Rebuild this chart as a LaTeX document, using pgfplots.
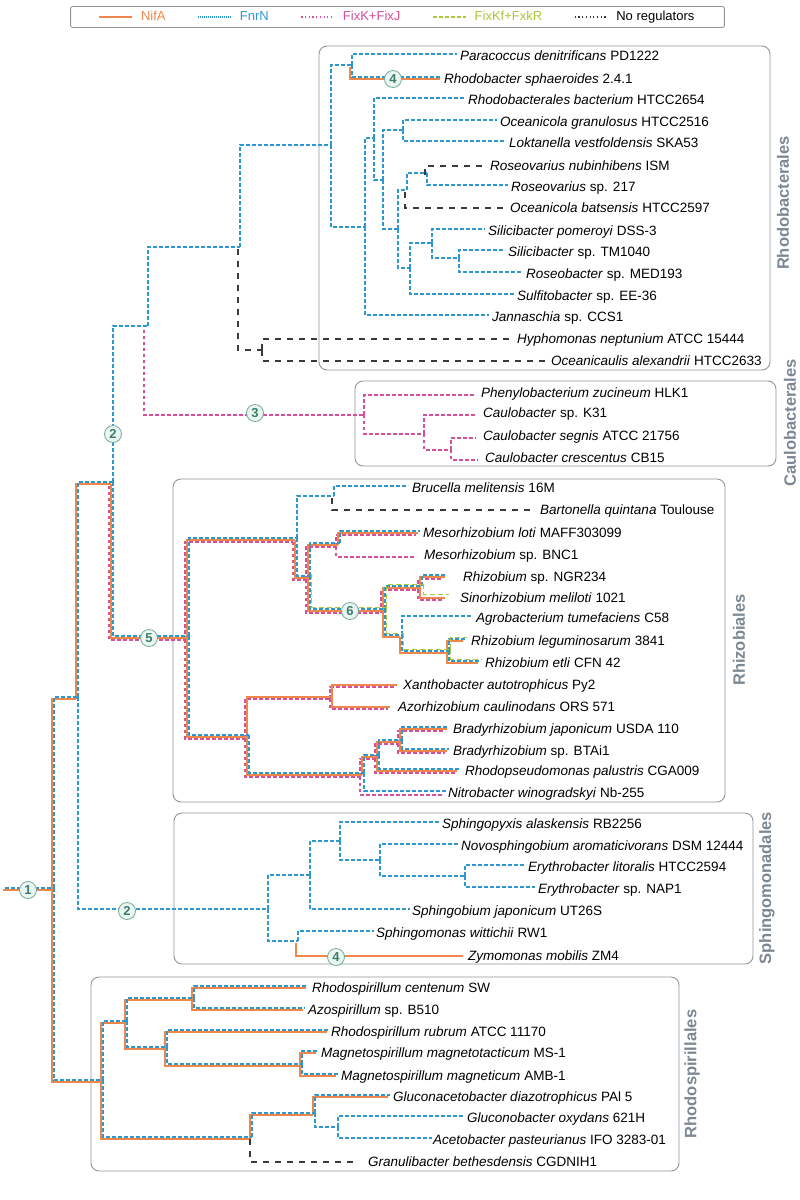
\documentclass[border=0pt]{standalone}
\usepackage{pgfplots}
\pgfplotsset{compat=1.18}
\usepackage{fontspec}
\setmainfont{Liberation Sans}
\definecolor{nifa}{HTML}{F0874A}
\definecolor{fnrn}{HTML}{2F97CF}
\definecolor{fixk}{HTML}{D64F9A}
\definecolor{fixkf}{HTML}{A9C93A}
\definecolor{noreg}{HTML}{3A3A3A}
\definecolor{framec}{HTML}{8E959B}
\definecolor{ordgray}{HTML}{7B8792}
\definecolor{circfill}{HTML}{EAF6F1}
\definecolor{circdraw}{HTML}{76AA9B}
\definecolor{circtext}{HTML}{3C7D6C}
\newcommand{\labfont}{\fontsize{13.5}{16}\selectfont}
\newcommand{\lab}[4]{\node[anchor=base west, inner sep=0pt, yshift=-4.5pt, font=\labfont] at (axis cs:#1,#2) {\textit{#3} #4};}
\newcommand{\ord}[3]{\node[rotate=90, inner sep=0pt, font=\bfseries\fontsize{16.5}{18}\selectfont, text=ordgray] at (axis cs:#1,#2) {#3};}
\tikzset{
  sOr/.style={nifa, line width=1.4pt},
  sBl/.style={fnrn, line width=1.55pt, dash pattern=on 4pt off 2pt},
  sRd/.style={fixk, line width=1.5pt, dash pattern=on 3.5pt off 2.5pt},
  sGr/.style={fixkf, line width=1.4pt, dash pattern=on 5pt off 3pt},
  sBk/.style={noreg, line width=1.3pt, dash pattern=on 6pt off 6pt},
  sFr/.style={framec, line width=0.9pt, rounded corners=8pt},
}
\begin{document}
\begin{tikzpicture}
\begin{axis}[
  width=800pt, height=1200pt, scale only axis,
  xmin=0, xmax=800, ymin=0, ymax=1200, y dir=reverse,
  hide axis, clip=false, unbounded coords=jump,
  legend columns=5,
  legend style={at={(axis cs:397.5,17)}, anchor=center, draw=framec, rounded corners=2pt, line width=0.9pt,
    inner xsep=28pt, inner ysep=3pt, font=\fontsize{13}{15}\selectfont,
    /tikz/every odd column/.append style={column sep=6pt},
    /tikz/every even column/.append style={column sep=30pt}},
  legend image code/.code={\draw[#1] (0pt,0pt) -- (33pt,0pt);},
]
\addlegendimage{nifa, line width=1.4pt}
\addlegendentry{\textcolor{nifa}{NifA}}
\addlegendimage{fnrn, line width=1.3pt, dash pattern=on 1.2pt off 0.8pt}
\addlegendentry{\textcolor{fnrn}{FnrN}}
\addlegendimage{fixk, line width=1.2pt, dash pattern=on 1.2pt off 2.5pt}
\addlegendentry{\textcolor{fixk}{FixK+FixJ}}
\addlegendimage{fixkf, line width=1.3pt, dash pattern=on 4pt off 2pt}
\addlegendentry{\textcolor{fixkf}{FixKf+FxkR}}
\addlegendimage{noreg, line width=1.1pt, dash pattern=on 1.2pt off 2.5pt}
\addlegendentry{No regulators}

% bounding box
\addplot[draw=none, forget plot] coordinates {(0,0) (800,1200)};

% frames
\addplot[sFr, forget plot] coordinates {(540,46) (770,46) (770,370) (319,370) (319,46) (541,46)};
\addplot[sFr, forget plot] coordinates {(560,381) (776,381) (776,466) (355,466) (355,381) (561,381)};
\addplot[sFr, forget plot] coordinates {(450,479) (725,479) (725,802) (173,802) (173,479) (451,479)};
\addplot[sFr, forget plot] coordinates {(460,813) (753,813) (753,964) (174,964) (174,813) (461,813)};
\addplot[sFr, forget plot] coordinates {(380,977) (679,977) (679,1171) (91,1171) (91,977) (381,977)};

% FixK+FixJ (red)
\addplot[sRd, forget plot] table[x expr=\thisrow{x}-1.8, y expr=\thisrow{y}+1.8] {
x y
111 484
111 638
187 638
nan nan
187 638
187 540
295 540
nan nan
295 540
295 578
308 578
nan nan
308 578
308 545
338 545
nan nan
338 545
338 533
418 533
nan nan
338 545
338 555
418 555
nan nan
308 578
308 611
383 611
nan nan
383 611
383 588
420 588
nan nan
420 588
420 577
445 577
nan nan
420 588
420 598
445 598
nan nan
187 638
187 737
247 737
nan nan
247 737
247 697
332 697
nan nan
332 697
332 685
397 685
nan nan
332 697
332 707
390 707
nan nan
247 737
247 775
362 775
nan nan
362 775
362 757
377 757
nan nan
377 757
377 742
400 742
nan nan
400 742
400 729
447 729
nan nan
400 742
400 751
447 751
nan nan
377 757
377 771
457 771
nan nan
362 775
362 793
444 793
nan nan
146 328
146 413
366 413
nan nan
366 413
366 393
476 393
nan nan
366 413
366 432
426 432
nan nan
426 432
426 413
478 413
nan nan
426 432
426 448
453 448
nan nan
453 448
453 436
478 436
nan nan
453 448
453 458
480 458
};

% NifA (orange)
\addplot[sOr, forget plot] table {
x y
3 890
52 890
nan nan
52 890
52 699
76 699
nan nan
76 699
76 484
111 484
nan nan
111 484
111 638
187 638
nan nan
187 638
187 540
295 540
nan nan
295 540
295 578
308 578
nan nan
308 578
308 545
338 545
nan nan
338 545
338 533
418 533
nan nan
308 578
308 611
383 611
nan nan
383 611
383 588
420 588
nan nan
420 588
420 577
445 577
nan nan
420 588
420 598
445 598
nan nan
383 611
383 637
400 637
nan nan
400 637
400 653
447 653
nan nan
447 653
447 641
463 641
nan nan
447 653
447 663
478 663
nan nan
187 638
187 737
247 737
nan nan
247 737
247 697
332 697
nan nan
332 697
332 685
397 685
nan nan
332 697
332 707
390 707
nan nan
247 737
247 775
362 775
nan nan
362 775
362 757
377 757
nan nan
377 757
377 742
400 742
nan nan
400 742
400 729
447 729
nan nan
400 742
400 751
447 751
nan nan
377 757
377 771
457 771
nan nan
350 67
350 79
440 79
nan nan
296 943
296 956
463 956
nan nan
52 890
52 1082
101 1082
nan nan
101 1082
101 1023
125 1023
nan nan
125 1023
125 1000
192 1000
nan nan
192 1000
192 988
306 988
nan nan
192 1000
192 1010
303 1010
nan nan
125 1023
125 1049
165 1049
nan nan
165 1049
165 1032
327 1032
nan nan
165 1049
165 1066
300 1066
nan nan
300 1066
300 1053
316 1053
nan nan
300 1066
300 1076
336 1076
nan nan
101 1082
101 1139
250 1139
nan nan
250 1139
250 1115
313 1115
nan nan
313 1115
313 1097
388 1097
};

% FnrN (blue)
\addplot[sBl, forget plot] table[x expr=\thisrow{x}+1.8, y expr=\thisrow{y}-1.8] {
x y
3 890
52 890
nan nan
52 890
52 699
76 699
nan nan
76 699
76 484
111 484
nan nan
111 484
111 638
187 638
nan nan
187 638
187 540
295 540
nan nan
295 540
295 578
308 578
nan nan
308 578
308 545
338 545
nan nan
338 545
338 533
418 533
nan nan
308 578
308 611
383 611
nan nan
383 611
383 588
420 588
nan nan
420 588
420 577
445 577
nan nan
383 611
383 637
400 637
nan nan
400 637
400 618
470 618
nan nan
400 637
400 653
447 653
nan nan
447 653
447 641
463 641
nan nan
447 653
447 663
478 663
nan nan
295 540
295 498
332 498
nan nan
332 498
332 488
406 488
nan nan
187 638
187 737
247 737
nan nan
247 737
247 775
362 775
nan nan
362 775
362 757
377 757
nan nan
377 757
377 742
400 742
nan nan
400 742
400 729
447 729
nan nan
400 742
400 751
447 751
nan nan
377 757
377 771
457 771
nan nan
362 775
362 793
444 793
nan nan
76 699
76 911
266 911
nan nan
266 911
266 877
308 877
nan nan
308 877
308 843
338 843
nan nan
338 843
338 824
438 824
nan nan
338 843
338 862
378 862
nan nan
378 862
378 846
457 846
nan nan
378 862
378 878
463 878
nan nan
463 878
463 867
524 867
nan nan
463 878
463 889
533 889
nan nan
308 877
308 911
408 911
nan nan
266 911
266 943
296 943
nan nan
296 943
296 933
372 933
nan nan
111 484
111 328
146 328
nan nan
146 328
146 249
238 249
nan nan
238 249
238 147
329 147
nan nan
329 147
329 67
350 67
nan nan
350 67
350 56
455 56
nan nan
350 67
350 79
440 79
nan nan
329 147
329 229
363 229
nan nan
363 229
363 140
372 140
nan nan
372 140
372 100
463 100
nan nan
372 140
372 182
381 182
nan nan
381 182
381 132
401 132
nan nan
401 132
401 122
495 122
nan nan
401 132
401 143
504 143
nan nan
381 182
381 231
396 231
nan nan
396 231
396 192
405 192
nan nan
405 192
405 175
425 175
nan nan
425 175
425 187
506 187
nan nan
396 231
396 270
408 270
nan nan
408 270
408 245
430 245
nan nan
430 245
430 231
483 231
nan nan
430 245
430 260
457 260
nan nan
457 260
457 252
503 252
nan nan
457 260
457 274
521 274
nan nan
408 270
408 296
512 296
nan nan
363 229
363 317
487 317
nan nan
52 890
52 1082
101 1082
nan nan
101 1082
101 1023
125 1023
nan nan
125 1023
125 1000
192 1000
nan nan
192 1000
192 988
306 988
nan nan
192 1000
192 1010
303 1010
nan nan
125 1023
125 1049
165 1049
nan nan
165 1049
165 1032
327 1032
nan nan
165 1049
165 1066
300 1066
nan nan
300 1066
300 1053
316 1053
nan nan
300 1066
300 1076
336 1076
nan nan
101 1082
101 1139
250 1139
nan nan
250 1139
250 1115
313 1115
nan nan
313 1115
313 1097
388 1097
nan nan
313 1115
313 1129
336 1129
nan nan
336 1129
336 1118
463 1118
nan nan
336 1129
336 1140
430 1140
};

% FixKf+FxkR (green)
\addplot[sGr, forget plot] table[x expr=\thisrow{x}+3.6, y expr=\thisrow{y}-3.6] {
x y
308 578
308 611
383 611
nan nan
383 611
383 588
420 588
nan nan
420 588
420 598
445 598
nan nan
383 611
383 637
400 637
nan nan
400 637
400 653
447 653
nan nan
447 653
447 641
463 641
nan nan
447 653
447 663
478 663
};

% No regulators (black)
\addplot[sBk, forget plot] table {
x y
238 249
238 350
262 350
nan nan
262 350
262 339
512 339
nan nan
262 350
262 361
546 361
nan nan
405 192
405 208
505 208
nan nan
425 175
425 166
485 166
nan nan
332 498
332 510
535 510
nan nan
250 1139
250 1162
358 1162
};

% numbered circles
\addplot[only marks, mark=*, mark size=8.5pt, forget plot,
  mark options={fill=circfill, draw=circdraw, line width=0.8pt, solid},
  nodes near coords, point meta=explicit symbolic, nodes near coords align={center},
  every node near coord/.append style={font=\bfseries\fontsize{13}{13}\selectfont, text=circtext, inner sep=0pt}]
  table[meta=lab] {
x y lab
28 890 1
113 434 2
127 911 2
255 413 3
393 79 4
336 957 4
149 638 5
350 611 6
};

% leaf labels
\lab{460}{56}{Paracoccus denitrificans}{PD1222}
\lab{444}{79}{Rhodobacter sphaeroides}{2.4.1}
\lab{468}{100}{Rhodobacterales bacterium}{HTCC2654}
\lab{500}{122}{Oceanicola granulosus}{HTCC2516}
\lab{509}{143}{Loktanella vestfoldensis}{SKA53}
\lab{490}{166}{Roseovarius nubinhibens}{ISM}
\lab{511}{187}{Roseovarius}{sp. 217}
\lab{510}{208}{Oceanicola batsensis}{HTCC2597}
\lab{488}{231}{Silicibacter pomeroyi}{DSS-3}
\lab{508}{252}{Silicibacter}{sp. TM1040}
\lab{526}{274}{Roseobacter}{sp. MED193}
\lab{517}{296}{Sulfitobacter}{sp. EE-36}
\lab{492}{317}{Jannaschia}{sp. CCS1}
\lab{517}{339}{Hyphomonas neptunium}{ATCC 15444}
\lab{551}{361}{Oceanicaulis alexandrii}{HTCC2633}
\lab{481}{393}{Phenylobacterium zucineum}{HLK1}
\lab{483}{413}{Caulobacter}{sp. K31}
\lab{483}{436}{Caulobacter segnis}{ATCC 21756}
\lab{485}{458}{Caulobacter crescentus}{CB15}
\lab{412}{488}{Brucella melitensis}{16M}
\lab{540}{510}{Bartonella quintana}{Toulouse}
\lab{423}{533}{Mesorhizobium loti}{MAFF303099}
\lab{424}{555}{Mesorhizobium}{sp. BNC1}
\lab{463}{577}{Rhizobium}{sp. NGR234}
\lab{460}{598}{Sinorhizobium meliloti}{1021}
\lab{476}{618}{Agrobacterium tumefaciens}{C58}
\lab{471}{641}{Rhizobium leguminosarum}{3841}
\lab{485}{663}{Rhizobium etli}{CFN 42}
\lab{403}{685}{Xanthobacter autotrophicus}{Py2}
\lab{398}{707}{Azorhizobium caulinodans}{ORS 571}
\lab{453}{729}{Bradyrhizobium japonicum}{USDA 110}
\lab{453}{751}{Bradyrhizobium}{sp. BTAi1}
\lab{465}{771}{Rhodopseudomonas palustris}{CGA009}
\lab{448}{793}{Nitrobacter winogradskyi}{Nb-255}
\lab{442}{824}{Sphingopyxis alaskensis}{RB2256}
\lab{461}{846}{Novosphingobium aromaticivorans}{DSM 12444}
\lab{528}{867}{Erythrobacter litoralis}{HTCC2594}
\lab{538}{889}{Erythrobacter}{sp. NAP1}
\lab{412}{911}{Sphingobium japonicum}{UT26S}
\lab{376}{933}{Sphingomonas wittichii}{RW1}
\lab{468}{956}{Zymomonas mobilis}{ZM4}
\lab{312}{988}{Rhodospirillum centenum}{SW}
\lab{308}{1010}{Azospirillum}{sp. B510}
\lab{331}{1032}{Rhodospirillum rubrum}{ATCC 11170}
\lab{321}{1053}{Magnetospirillum magnetotacticum}{MS-1}
\lab{341}{1076}{Magnetospirillum magneticum}{AMB-1}
\lab{393}{1097}{Gluconacetobacter diazotrophicus}{PAl 5}
\lab{467}{1118}{Gluconobacter oxydans}{621H}
\lab{433}{1140}{Acetobacter pasteurianus}{IFO 3283-01}
\lab{368}{1162}{Granulibacter bethesdensis}{CGDNIH1}

% order labels
\ord{783}{203}{Rhodobacterales}
\ord{790}{423}{Caulobacterales}
\ord{739}{640}{Rhizobiales}
\ord{767}{888}{Sphingomonadales}
\ord{692}{1074}{Rhodospirillales}
\end{axis}
\end{tikzpicture}
\end{document}
